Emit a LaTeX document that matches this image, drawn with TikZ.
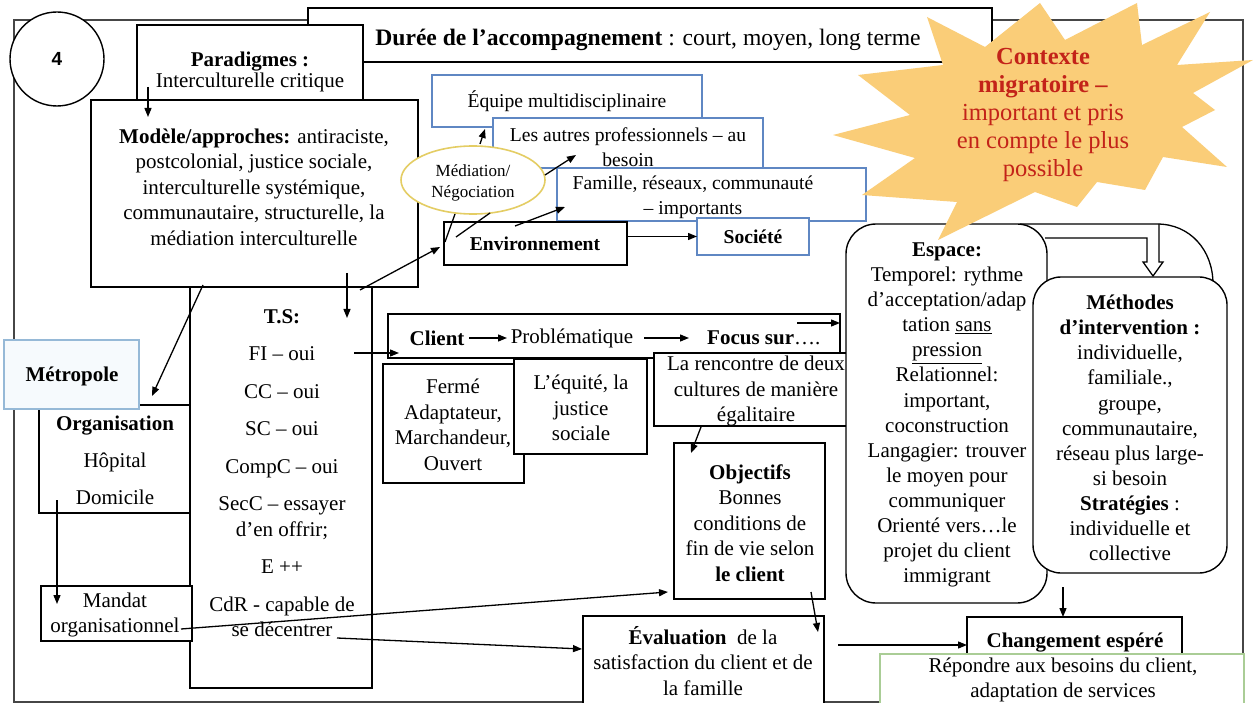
\documentclass[tikz,border=0pt]{standalone}
\usepackage{fontspec}
\setmainfont{Liberation Serif}
\newfontfamily\numfont{Liberation Sans}
\usetikzlibrary{arrows.meta,calc,shapes.geometric}

\definecolor{frameline}{RGB}{70,70,70}
\definecolor{boxblue}{RGB}{95,135,195}
\definecolor{metroblue}{RGB}{150,185,215}
\definecolor{metrofill}{RGB}{246,250,253}
\definecolor{medyellow}{RGB}{228,205,100}
\definecolor{okgreen}{RGB}{170,205,150}
\definecolor{starfill}{RGB}{250,205,120}
\definecolor{starred}{RGB}{195,35,25}

\newcommand\fs{\fontsize{21}{25.5}\selectfont}
\newcommand\fsmid{\fontsize{19.6}{25}\selectfont}
% style, name, x1, y1, x2, y2
\newcommand\boxnode[6]{%
  \node[#1, minimum width={#5-#3}, minimum height={#6-#4}] (#2) at ({(#3+#5)/2},{(#4+#6)/2}) {};}

\begin{document}
\begin{tikzpicture}[x=1pt,y=-1pt,
  box/.style={rectangle, draw=black, line width=1.4pt, fill=white, inner sep=0pt, outer sep=0pt},
  bluebox/.style={box, draw=boxblue},
  roundbox/.style={box, rounded corners=30pt},
  txt/.style={align=center, inner sep=0pt, font=\fs},
  midtxt/.style={align=center, inner sep=0pt, font=\fsmid},
  arr/.style={line width=1.3pt, -{Triangle[length=9pt,width=7pt]}},
  link/.style={line width=1.3pt}]

\useasboundingbox (0,0) rectangle (1253,703);
\fill[white] (0,0) rectangle (1253,703);

% outer frame
\draw[frameline, line width=1.6pt] (14,20) rectangle (1243,702);

% duration banner
\boxnode{box}{duree}{308}{8}{992}{62}
\node[align=center, inner sep=0pt, font=\fontsize{23.6}{28}\selectfont] (dureetxt) at (648,40) {\textbf{Durée de l’accompagnement} : court, moyen, long terme};

% number badge
\node[circle, draw, line width=1.4pt, fill=white, minimum size=94, inner sep=0pt,
      font=\numfont\bfseries\fontsize{19}{22}\selectfont] (badge) at (57,59) {4};

% left column
\boxnode{box}{para}{137}{25}{363}{105}
\node[align=center, inner sep=0pt, font=\fontsize{21}{19}\selectfont] (paratxt) at (250,72)
  {\textbf{Paradigmes :}\\Interculturelle critique};

\boxnode{box}{ts}{190}{287}{372}{688}
\node[txt] (tstxt) at (282,473) {\textbf{T.S:}\\[12pt]FI – oui\\[12pt]CC – oui\\[12pt]SC – oui\\[12pt]CompC – oui\\[12pt]SecC – essayer\\d’en offrir;\\[12pt]E ++\\[12pt]CdR - capable de\\se décentrer};

\boxnode{box}{modele}{91}{100}{418}{287}
\node[txt] (modeletxt) at (254,187) {\textbf{Modèle/approches:} antiraciste,\\postcolonial, justice sociale,\\interculturelle systémique,\\communautaire, structurelle, la\\médiation interculturelle};

\boxnode{box}{orga}{39}{405}{190}{513}
\node[txt] (orgatxt) at (115,460) {\textbf{Organisation}\\[11.5pt]Hôpital\\[11.5pt]Domicile};

\boxnode{box, draw=metroblue, fill=metrofill}{metro}{4}{340}{139}{409}
\node[txt] (metrotxt) at (72,376) {\textbf{Métropole}};

\boxnode{box}{mandat}{41}{586}{192}{641}
\node[txt] (mandattxt) at (115,615) {Mandat\\organisationnel};

% environment cluster
\boxnode{bluebox}{equipe}{432}{75}{702}{127}
\node[midtxt] (equipetxt) at (567,101) {Équipe multidisciplinaire};
\boxnode{bluebox}{autres}{493}{118}{763}{168}
\node[midtxt] (autrestxt) at (628,147) {Les autres professionnels – au\\besoin};
\boxnode{bluebox}{famille}{557}{168}{866}{221}
\node[midtxt] (familletxt) at (693,197) {Famille, réseaux, communauté\\– importants};
\node[ellipse, draw=medyellow, line width=1.6pt, fill=white, minimum width=144, minimum height=68, inner sep=0pt] (med) at (473,180) {};
\node[align=center, inner sep=0pt, font=\fontsize{17}{21}\selectfont] (medtxt) at (473,183) {Médiation/\\Négociation};
\boxnode{box}{env}{444}{222}{627}{265}
\node[midtxt] (envtxt) at (535,244) {\textbf{Environnement}};
\boxnode{bluebox}{soc}{697}{218}{809}{255}
\node[midtxt] (soctxt) at (753,237) {\textbf{Société}};

% client strip
\boxnode{box}{client}{388}{314}{840}{358}
\node[txt] (clienttxt) at (437,338) {\textbf{Client}};
\node[txt] (probtxt) at (572,338) {Problématique};
\node[txt, anchor=west] (focustxt) at (707,338) {\textbf{Focus sur}….};

\boxnode{box}{ferme}{383}{364}{524}{483}
\node[txt] (fermetxt) at (453,425) {Fermé\\Adaptateur,\\Marchandeur,\\Ouvert};
\boxnode{box}{equite}{514}{359}{647}{454}
\node[txt] (equitetxt) at (581,408) {L’équité, la\\justice\\sociale};
\boxnode{box}{rencontre}{654}{353}{859}{426}
\node[txt] (rencontretxt) at (756,391) {La rencontre de deux\\cultures de manière\\égalitaire};

\boxnode{box}{obj}{674}{443}{825}{599}
\node[txt] (objtxt) at (750,523) {\textbf{Objectifs}\\Bonnes\\conditions de\\fin de vie selon\\\textbf{le client}};

\boxnode{box}{eval}{583}{616}{824}{706}
\node[txt] (evaltxt) at (703,661) {\textbf{Évaluation}\ \ de la\\satisfaction du client et de\\la famille};

% space and methods
\draw[link] (1020,224) -- (1157,224) .. controls (1190,224) and (1213,250) .. (1213,284);
\draw[link] (1045,238) -- (1147,238) -- (1147,262) -- (1143,262) -- (1153,276)
            -- (1163,262) -- (1159,262) -- (1159,224);
\boxnode{roundbox}{espace}{846}{224}{1047}{603}
\node[txt, font=\fontsize{21}{25.1}\selectfont] (espacetxt) at (947,415) {\textbf{Espace:}\\Temporel: rythme\\d’acceptation/adap\\tation \underline{sans}\\\underline{pression}\\Relationnel:\\important,\\coconstruction\\Langagier: trouver\\le moyen pour\\communiquer\\Orienté vers…le\\projet du client\\immigrant};
\boxnode{roundbox, rounded corners=28pt}{methodes}{1033}{277}{1227}{573}
\node[txt, font=\fontsize{21}{25.1}\selectfont] (methodestxt) at (1130,428) {\textbf{Méthodes}\\\textbf{d’intervention :}\\individuelle,\\familiale.,\\groupe,\\communautaire,\\réseau plus large-\\si besoin\\\textbf{Stratégies} :\\individuelle et\\collective};

\boxnode{box}{chg}{967}{617}{1182}{665}
\node[txt] (chgtxt) at (1075,643) {\textbf{Changement espéré}};
\boxnode{box, draw=okgreen}{rep}{880}{654}{1244}{710}
\node[txt] (reptxt) at (1063,680) {Répondre aux besoins du client,\\adaptation de services};

% migration context burst
\fill[starfill] (927,17) -- (985,47) -- (1040,3) -- (1065,40) -- (1137,3) -- (1142,45)
  -- (1210,12) -- (1177,65) -- (1253,60) -- (1193,93) -- (1215,110) -- (1182,127)
  -- (1227,167) -- (1163,157) -- (1145,190) -- (1097,182) -- (1077,207) -- (1035,192)
  -- (938,240) -- (957,202) -- (862,195) -- (915,158) -- (833,135) -- (910,115)
  -- (858,75) -- (943,65) -- cycle;
\node[align=center, inner sep=0pt, text=starred, font=\fontsize{24.5}{28}\selectfont] (startxt) at (1043,115)
  {\textbf{Contexte}\\\textbf{migratoire –}\\important et pris\\en compte le plus\\possible};

% connector ends
\coordinate (pA) at (148,87);   \coordinate (mA) at (148,117);
\coordinate (mB) at (203,285);  \coordinate (oA) at (152,396);
\coordinate (mC) at (347,273);  \coordinate (tA) at (347,318);
\coordinate (tB) at (360,290);  \coordinate (eA) at (440,247);
\coordinate (dA) at (57,500);   \coordinate (nA) at (57,604);
\coordinate (nB) at (181,629);  \coordinate (jA) at (668,592);
\coordinate (tC) at (337,638);  \coordinate (vA) at (582,649);
\coordinate (tD) at (354,353);  \coordinate (cA) at (399,353);
\coordinate (cB) at (469,338);  \coordinate (cC) at (507,338);
\coordinate (cD) at (644,338);  \coordinate (cE) at (689,338);
\coordinate (cF) at (797,323);  \coordinate (cG) at (840,323);
\coordinate (rA) at (701,427);  \coordinate (jB) at (691,453);
\coordinate (jC) at (811,592);  \coordinate (vB) at (818,632);
\coordinate (vC) at (838,645);  \coordinate (gA) at (967,645);
\coordinate (xA) at (1063,587); \coordinate (gB) at (1063,617);
\coordinate (kA) at (480,144);  \coordinate (qA) at (485,129);
\coordinate (kB) at (545,175);  \coordinate (uA) at (576,155);
\coordinate (eB) at (515,226);  \coordinate (fA) at (565,207);
\coordinate (kC) at (455,214);  \coordinate (eC) at (445,242);
\coordinate (eD) at (456,237);  \coordinate (kD) at (490,213);

\draw[arr] (pA) -- (mA);
\draw[arr] (mB) -- (oA);
\draw[arr] (mC) -- (tA);
\draw[arr] (tB) -- (eA);
\draw[arr] (dA) -- (nA);
\draw[arr] (nB) -- (jA);
\draw[arr] (tC) -- (vA);
\draw[arr] (tD) -- (cA);
\draw[arr] (cB) -- (cC);
\draw[arr] (cD) -- (cE);
\draw[arr] (cF) -- (cG);
\draw[arr] (rA) -- (jB);
\draw[arr] (jC) -- (vB);
\draw[arr] (vC) -- (gA);
\draw[arr] (xA) -- (gB);
\draw[arr] (env.east |- soc) -- (soc.west);
\draw[arr] (kA) -- (qA);
\draw[arr] (kB) -- (uA);
\draw[arr] (eB) -- (fA);
\draw[link] (kC) -- (eC);
\draw[link] (eD) -- (kD);

\end{tikzpicture}
\end{document}
